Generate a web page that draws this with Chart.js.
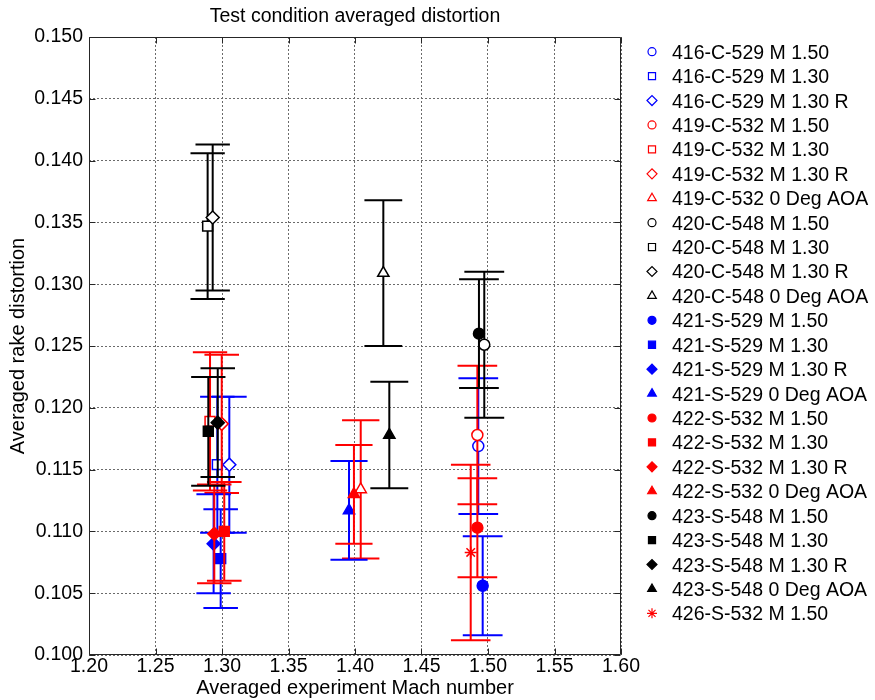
<!DOCTYPE html>
<html>
<head>
<meta charset="utf-8">
<script src="https://cdn.jsdelivr.net/npm/chart.js@4.4.0/dist/chart.umd.min.js"></script>
<style>
html,body{margin:0;padding:0;background:#ffffff;}
#wrap{width:875px;height:700px;}
</style>
</head>
<body>
<div id="wrap"><canvas id="c" width="875" height="700"></canvas></div>
<script>
// ---------------- DATA ----------------
const chartTitle = 'Test condition averaged distortion';
const xAxisTitle = 'Averaged experiment Mach number';
const yAxisTitle = 'Averaged rake distortion';

const seriesLabels = [
  '416-C-529 M 1.50', '416-C-529 M 1.30', '416-C-529 M 1.30 R',
  '419-C-532 M 1.50', '419-C-532 M 1.30', '419-C-532 M 1.30 R', '419-C-532 0 Deg AOA',
  '420-C-548 M 1.50', '420-C-548 M 1.30', '420-C-548 M 1.30 R', '420-C-548 0 Deg AOA',
  '421-S-529 M 1.50', '421-S-529 M 1.30', '421-S-529 M 1.30 R', '421-S-529 0 Deg AOA',
  '422-S-532 M 1.50', '422-S-532 M 1.30', '422-S-532 M 1.30 R', '422-S-532 0 Deg AOA',
  '423-S-548 M 1.50', '423-S-548 M 1.30', '423-S-548 M 1.30 R', '423-S-548 0 Deg AOA',
  '426-S-532 M 1.50'
];

const machValues = [
  1.4927, 1.2965, 1.3055,
  1.4920, 1.2910, 1.2998, 1.4043,
  1.4972, 1.2892, 1.2930, 1.4213,
  1.4960, 1.2990, 1.2937, 1.3955,
  1.4920, 1.3017, 1.2942, 1.3992,
  1.4932, 1.2897, 1.2968, 1.4258,
  1.4870
];

const distortionValues = [
  0.1169, 0.1154, 0.1154,
  0.1178, 0.1189, 0.1187, 0.1134,
  0.1251, 0.1347, 0.1354, 0.1309,
  0.1056, 0.1078, 0.1090, 0.1117,
  0.1103, 0.1100, 0.1098, 0.1130,
  0.1260, 0.1181, 0.1188, 0.1178,
  0.1083
];

const distortionErrors = [
  0.0055, 0.0055, 0.0055,
  0.0056, 0.0056, 0.0056, 0.0056,
  0.0059, 0.0059, 0.0059, 0.0059,
  0.0040, 0.0040, 0.0040, 0.0040,
  0.0040, 0.0040, 0.0040, 0.0040,
  0.0044, 0.0044, 0.0044, 0.0043,
  0.0071
];

const xTickValues = [1.20, 1.25, 1.30, 1.35, 1.40, 1.45, 1.50, 1.55, 1.60];
const yTickValues = [0.100, 0.105, 0.110, 0.115, 0.120, 0.125, 0.130, 0.135, 0.140, 0.145, 0.150];

// ---------------- STYLE ----------------
const FONT_FAMILY = '"Liberation Sans", Arial, Helvetica, sans-serif';
const MODEL_COLORS = {
  '416': '#0000ff', '421': '#0000ff',
  '419': '#ff0000', '422': '#ff0000', '426': '#ff0000',
  '420': '#000000', '423': '#000000'
};
const MARKER_RADIUS = {circle: 5.5, rect: 7, rectRot: 6.5, triangle: 6.5, star: 6};
const LEGEND_RADIUS = {circle: 4, rect: 5, rectRot: 5, triangle: 5, star: 5};

function styleFor(label) {
  const model = label.slice(0, 3);
  const color = MODEL_COLORS[model];
  const filled = label.charAt(4) === 'S';
  let marker;
  if (model === '426') marker = 'star';
  else if (label.endsWith('AOA')) marker = 'triangle';
  else if (label.endsWith(' R')) marker = 'rectRot';
  else if (label.endsWith('1.30')) marker = 'rect';
  else marker = 'circle';
  return {color, filled, marker};
}

const datasets = seriesLabels.map((label, i) => {
  const s = styleFor(label);
  return {
    label: label,
    data: [{x: machValues[i], y: distortionValues[i]}],
    pointStyle: s.marker,
    pointRadius: MARKER_RADIUS[s.marker],
    pointHoverRadius: MARKER_RADIUS[s.marker],
    borderColor: s.color,
    backgroundColor: (s.filled || s.marker === 'star') ? s.color : '#ffffff',
    pointBorderWidth: 1.5,
    showLine: false,
    order: seriesLabels.length - i
  };
});

// error bars drawn just before each series' marker (MATLAB-like stacking)
const errorBarPlugin = {
  id: 'errorBars',
  beforeDatasetDraw(chart, args) {
    const i = args.meta.index;
    const ds = chart.data.datasets[i];
    const xs = chart.scales.x, ys = chart.scales.y;
    const ctx = chart.ctx;
    const xv = machValues[i];
    const x = xs.getPixelForValue(xv);
    const yTop = ys.getPixelForValue(distortionValues[i] + distortionErrors[i]);
    const yBot = ys.getPixelForValue(distortionValues[i] - distortionErrors[i]);
    const capHalf = xs.getPixelForValue(xv + xv * 0.01) - x;
    const a = chart.chartArea;
    ctx.save();
    ctx.beginPath();
    ctx.rect(a.left, a.top, a.right - a.left, a.bottom - a.top);
    ctx.clip();
    ctx.strokeStyle = ds.borderColor;
    ctx.lineWidth = 2;
    ctx.lineCap = 'butt';
    ctx.beginPath();
    ctx.moveTo(x, yTop); ctx.lineTo(x, yBot);
    ctx.moveTo(x - capHalf, yTop); ctx.lineTo(x + capHalf, yTop);
    ctx.moveTo(x - capHalf, yBot); ctx.lineTo(x + capHalf, yBot);
    ctx.stroke();
    ctx.restore();
  }
};

// axes box, inward ticks, title and legend
const framePlugin = {
  id: 'frame',
  beforeDatasetsDraw(chart) {
    const ctx = chart.ctx, a = chart.chartArea;
    const xs = chart.scales.x, ys = chart.scales.y;
    ctx.save();
    ctx.strokeStyle = '#262626';
    ctx.lineWidth = 1;
    ctx.beginPath();
    const L = Math.round(a.left) + 0.5, R = Math.round(a.right) - 0.5;
    const T = Math.round(a.top) + 0.5, B = Math.round(a.bottom) - 0.5;
    ctx.moveTo(L, T); ctx.lineTo(R, T); ctx.lineTo(R, B); ctx.lineTo(L, B); ctx.closePath();
    const tl = 6;
    xTickValues.forEach(v => {
      const px = Math.round(xs.getPixelForValue(v)) + 0.5;
      ctx.moveTo(px, B); ctx.lineTo(px, B - tl);
      ctx.moveTo(px, T); ctx.lineTo(px, T + tl);
    });
    yTickValues.forEach(v => {
      const py = Math.round(ys.getPixelForValue(v)) + 0.5;
      ctx.moveTo(L, py); ctx.lineTo(L + tl, py);
      ctx.moveTo(R, py); ctx.lineTo(R - tl, py);
    });
    ctx.stroke();
    ctx.restore();
  },
  afterDraw(chart) {
    const ctx = chart.ctx, a = chart.chartArea;
    ctx.save();
    // title
    ctx.fillStyle = '#000000';
    ctx.font = '19.5px ' + FONT_FAMILY;
    ctx.textAlign = 'center';
    ctx.textBaseline = 'alphabetic';
    ctx.fillText(chartTitle, (a.left + a.right) / 2, 22);
    // legend
    const mx = 652, tx = 672, y0 = 51.7, dy = 24.42;
    chart.data.datasets.forEach((ds, i) => {
      const y = y0 + i * dy;
      const st = ds.pointStyle;
      ctx.save();
      ctx.strokeStyle = ds.borderColor;
      ctx.fillStyle = ds.backgroundColor;
      ctx.lineWidth = 1.2;
      Chart.helpers.drawPoint(ctx, {
        pointStyle: st, rotation: 0, radius: LEGEND_RADIUS[st], borderWidth: 1.2
      }, mx, y);
      ctx.restore();
      ctx.fillStyle = '#000000';
      ctx.font = '19.5px ' + FONT_FAMILY;
      ctx.textAlign = 'left';
      ctx.textBaseline = 'alphabetic';
      ctx.fillText(ds.label, tx, y + 7);
    });
    ctx.restore();
  }
};

Chart.defaults.font.family = FONT_FAMILY;
Chart.defaults.color = '#000000';

new Chart(document.getElementById('c'), {
  type: 'scatter',
  data: {datasets: datasets},
  plugins: [errorBarPlugin, framePlugin],
  options: {
    responsive: false,
    devicePixelRatio: 1,
    animation: false,
    events: [],
    layout: {padding: {left: 0, top: 37, right: 254, bottom: 0}},
    plugins: {
      legend: {display: false},
      title: {display: false},
      tooltip: {enabled: false}
    },
    scales: {
      x: {
        type: 'linear',
        min: 1.20, max: 1.60,
        afterBuildTicks: s => { s.ticks = xTickValues.map(v => ({value: v})); },
        afterFit: s => { s.height = 45; },
        ticks: {
          font: {size: 19.5},
          padding: 0,
          maxRotation: 0,
          autoSkip: false,
          callback: v => Number(v).toFixed(2)
        },
        grid: {color: '#6a6a6a', lineWidth: 1, drawTicks: false},
        border: {display: false, dash: [2, 2]},
        title: {display: true, text: xAxisTitle, font: {size: 20}, padding: {top: 0, bottom: 0}}
      },
      y: {
        type: 'linear',
        min: 0.100, max: 0.150,
        afterBuildTicks: s => { s.ticks = yTickValues.map(v => ({value: v})); },
        afterFit: s => { s.width = 89; },
        ticks: {
          font: {size: 19.5},
          padding: 6,
          autoSkip: false,
          callback: v => Number(v).toFixed(3)
        },
        grid: {color: '#6a6a6a', lineWidth: 1, drawTicks: false},
        border: {display: false, dash: [2, 2]},
        title: {display: true, text: yAxisTitle, font: {size: 20}, padding: {top: 6, bottom: 0}}
      }
    }
  }
});
</script>
</body>
</html>
